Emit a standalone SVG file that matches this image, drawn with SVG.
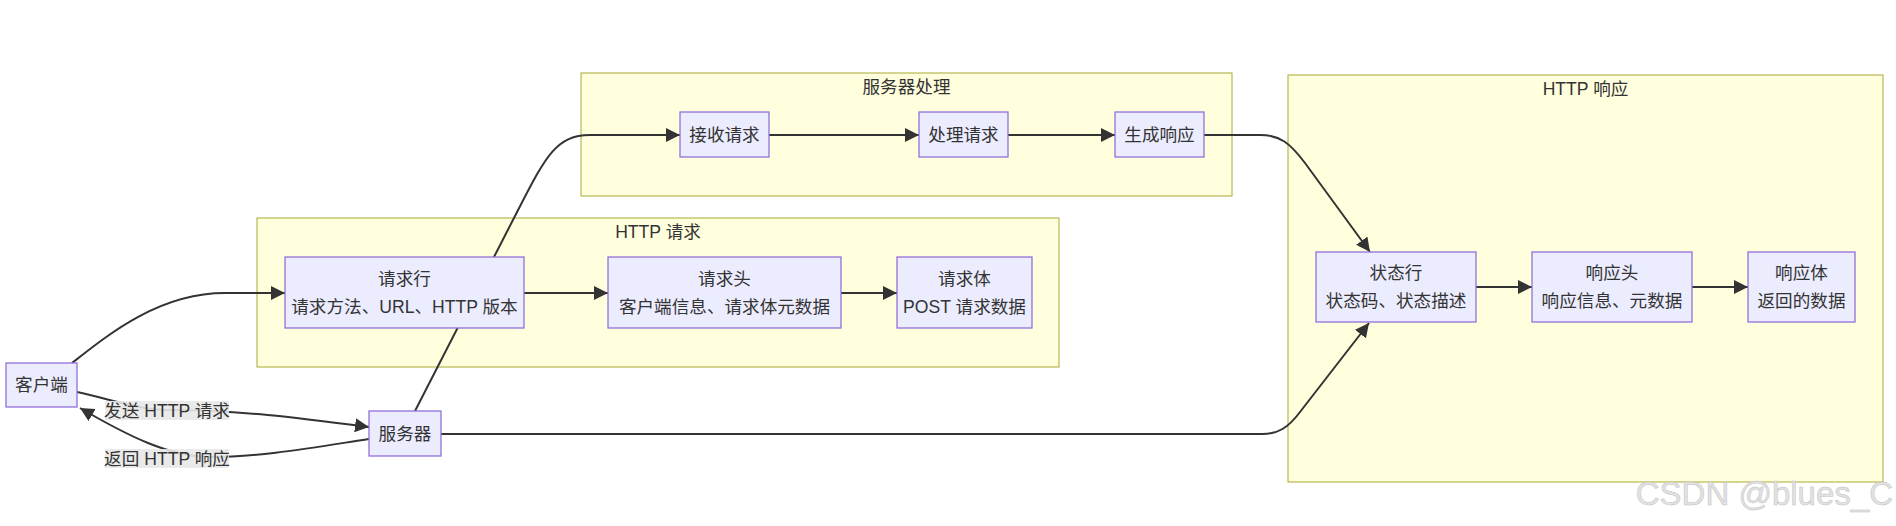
<svg xmlns="http://www.w3.org/2000/svg" width="1896" height="526" viewBox="0 0 1896 526">
<style>
  .cluster rect { fill: #ffffde; stroke: #aaaa33; stroke-width: 1; }
  .node rect { fill: #ececff; stroke: #9370db; stroke-width: 1.3; }
  text { font-family: "Liberation Sans", "Noto Sans CJK SC", sans-serif; font-size: 17.6px; fill: #333333; text-anchor: middle; dominant-baseline: central; }
  .edge { fill: none; stroke: #333333; stroke-width: 2; marker-end: url(#arrow); }
  .elabel rect { fill: #e8e8e8; fill-opacity: 0.9; }
  .wm { font-size: 33px; fill: #e2e2e2; stroke: #c2c2c2; stroke-width: 0.5; text-anchor: end; dominant-baseline: alphabetic; }
</style>
<defs>
  <marker id="arrow" viewBox="0 0 10 10" refX="10" refY="5" markerUnits="userSpaceOnUse" markerWidth="14" markerHeight="14" orient="auto">
    <path d="M0,0 L10,5 L0,10 z" fill="#333333"/>
  </marker>
</defs>
<rect width="1896" height="526" fill="#ffffff"/>

<g id="clusters">
  <g id="cluster-server-processing" class="cluster">
    <rect x="581" y="73" width="651" height="123"/>
    <text x="906.5" y="87">服务器处理</text>
  </g>
  <g id="cluster-http-request" class="cluster">
    <rect x="257" y="218" width="802" height="149"/>
    <text x="658" y="232">HTTP 请求</text>
  </g>
  <g id="cluster-http-response" class="cluster">
    <rect x="1288" y="75" width="595" height="407"/>
    <text x="1585.5" y="89">HTTP 响应</text>
  </g>
</g>

<g id="connectors">
  <path class="edge" d="M72,363 C110,333 160,293 225,293 L285,293"/>
  <path class="edge" d="M77,392 C110,399 140,410 167,410 C240,410 300,418 369,427"/>
  <path class="edge" d="M369,439 C310,448 260,457 210,457 C170,457 128,436 80,408"/>
  <path class="edge" d="M415,411 L515,216 C545,158 555,135 590,135 L680,135"/>
  <path class="edge" d="M769,135 L919,135"/>
  <path class="edge" d="M1008,135 L1115,135"/>
  <path class="edge" d="M1204,135 L1260,135 C1280,135 1290,143 1305,163 L1370,252"/>
  <path class="edge" d="M441,434 L1262,434 C1278,434 1288,428 1300,412 L1369,323"/>
  <path class="edge" d="M524,293 L608,293"/>
  <path class="edge" d="M841,293 L897,293"/>
  <path class="edge" d="M1476,287 L1532,287"/>
  <path class="edge" d="M1692,287 L1748,287"/>
  <g class="elabel" id="label-send">
    <rect x="105" y="401" width="124" height="19"/>
    <text x="167" y="410.5">发送 HTTP 请求</text>
  </g>
  <g class="elabel" id="label-return">
    <rect x="105" y="449" width="124" height="19"/>
    <text x="167" y="458.5">返回 HTTP 响应</text>
  </g>
</g>

<g id="node-client" class="node">
  <rect x="6" y="363" width="71" height="44"/>
  <text x="41.5" y="385">客户端</text>
</g>
<g id="node-server" class="node">
  <rect x="369" y="411" width="72" height="45"/>
  <text x="405" y="433.5">服务器</text>
</g>
<g id="node-request-line" class="node">
  <rect x="285" y="257" width="239" height="71"/>
  <text x="404.5" y="279">请求行</text>
  <text x="404.5" y="307">请求方法、URL、HTTP 版本</text>
</g>
<g id="node-request-header" class="node">
  <rect x="608" y="257" width="233" height="71"/>
  <text x="724.5" y="279">请求头</text>
  <text x="724.5" y="307">客户端信息、请求体元数据</text>
</g>
<g id="node-request-body" class="node">
  <rect x="897" y="257" width="135" height="71"/>
  <text x="964.5" y="279">请求体</text>
  <text x="964.5" y="307">POST 请求数据</text>
</g>
<g id="node-receive" class="node">
  <rect x="680" y="112" width="89" height="45"/>
  <text x="724.5" y="134.5">接收请求</text>
</g>
<g id="node-process" class="node">
  <rect x="919" y="112" width="89" height="45"/>
  <text x="963.5" y="134.5">处理请求</text>
</g>
<g id="node-generate" class="node">
  <rect x="1115" y="112" width="89" height="45"/>
  <text x="1159.5" y="134.5">生成响应</text>
</g>
<g id="node-status-line" class="node">
  <rect x="1316" y="252" width="160" height="70"/>
  <text x="1396" y="273">状态行</text>
  <text x="1396" y="301">状态码、状态描述</text>
</g>
<g id="node-response-header" class="node">
  <rect x="1532" y="252" width="160" height="70"/>
  <text x="1612" y="273">响应头</text>
  <text x="1612" y="301">响应信息、元数据</text>
</g>
<g id="node-response-body" class="node">
  <rect x="1748" y="252" width="107" height="70"/>
  <text x="1801.5" y="273">响应体</text>
  <text x="1801.5" y="301">返回的数据</text>
</g>

<text class="wm" x="1893" y="505">CSDN @blues_C</text>
</svg>
